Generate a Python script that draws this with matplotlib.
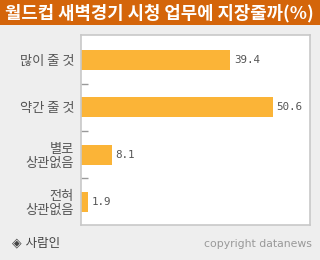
import matplotlib
matplotlib.use('Agg')
import matplotlib.pyplot as plt
from matplotlib.patches import Rectangle

plt.rcParams['font.family'] = ['Noto Sans CJK KR', 'DejaVu Sans']

title = '월드컵 새벽경기 시청 업무에 지장줄까(%)'
categories = ['많이 줄 것', '약간 줄 것', '별로\n상관없음', '전혀\n상관없음']
values = [39.4, 50.6, 8.1, 1.9]

bar_color = '#FBB437'
label_color = '#555555'

fig = plt.figure(figsize=(3.2, 2.6), dpi=100)
fig.patch.set_facecolor('#EEEEEE')

# title bar
fig.patches.append(Rectangle((0, 1 - 25 / 260), 1, 25 / 260, transform=fig.transFigure,
                             facecolor='#D4650A', edgecolor='none', zorder=0))
fig.text(5 / 320, 1 - 13 / 260, title, color='white', fontsize=12.8, fontweight='bold',
         ha='left', va='center')

ax = fig.add_axes([81 / 320, 35 / 260, 229 / 320, 190 / 260])
ax.set_facecolor('white')
pos = list(range(len(values)))
ax.barh(pos, values, height=0.42, color=bar_color)
for p, v in zip(pos, values):
    ax.text(v + 1, p, f'{v}', va='center', ha='left', fontsize=7.8,
            color=label_color, family='DejaVu Sans Mono')

ax.set_xlim(0, 60.4)
ax.set_ylim(3.49, -0.53)
ax.set_xticks([])
ax.set_yticks(pos)
ax.set_yticklabels(categories, fontsize=9.5, color=label_color, linespacing=1.05)
ax.tick_params(axis='y', which='major', length=0, pad=5)
ax.set_yticks([0.5, 1.5, 2.5], minor=True)
ax.tick_params(axis='y', which='minor', direction='in', length=5, color='#999999', width=1)
for s in ax.spines.values():
    s.set_color('#C8C8C8')
    s.set_linewidth(1.2)

fig.text(12 / 320, 1 - 243 / 260, '◈ 사람인', fontsize=9, color='#444444',
         ha='left', va='center', family=['DejaVu Sans', 'Noto Sans CJK KR'])
fig.text(312 / 320, 1 - 244 / 260, 'copyright datanews', fontsize=7.8, color='#999999',
         ha='right', va='center', family='DejaVu Sans')

fig.savefig('out.png', dpi=100, facecolor=fig.get_facecolor())
